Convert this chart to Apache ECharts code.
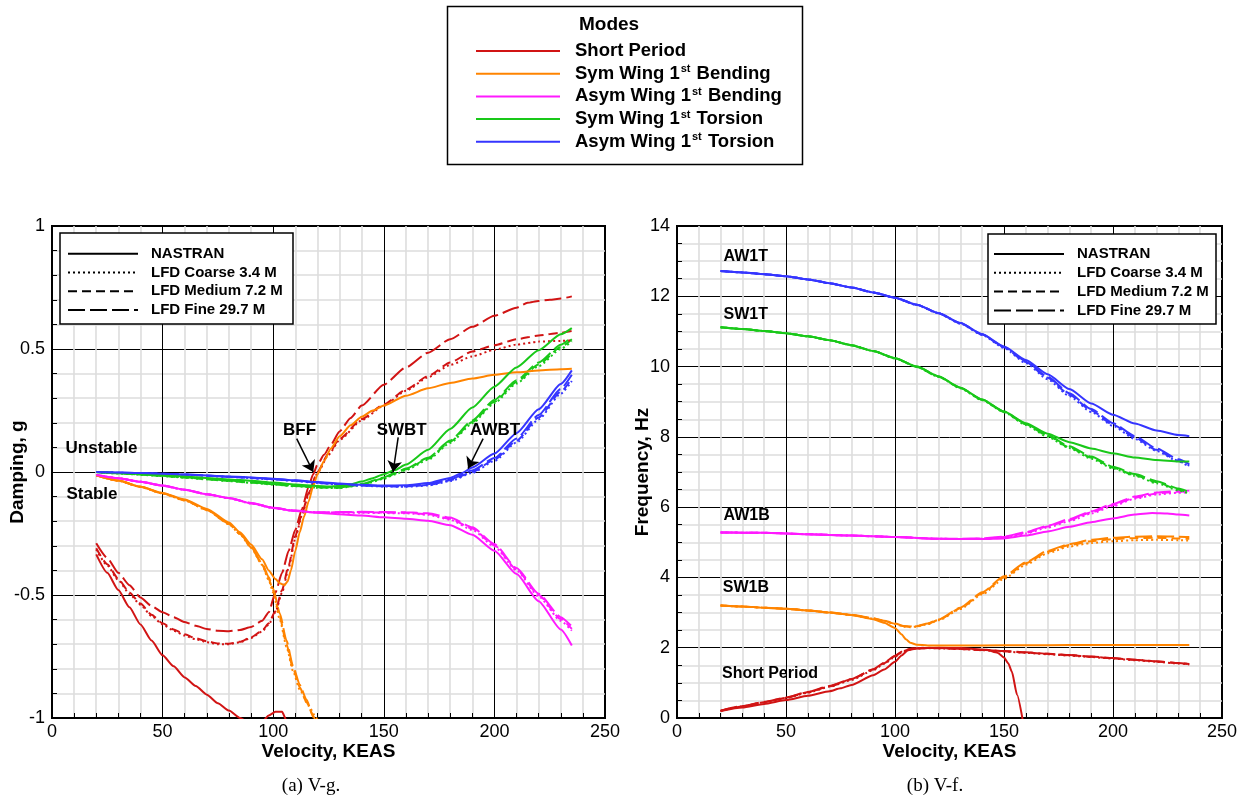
<!DOCTYPE html>
<html><head><meta charset="utf-8">
<script src="https://cdn.jsdelivr.net/npm/echarts/dist/echarts.min.js"></script>
<style>html,body{margin:0;padding:0;background:#fff}#c{width:1257px;height:802px}</style>
</head><body><div id="c"></div>
<script>
// ---------- names ----------
const MODES = ['Short Period','Sym Wing 1st Bending','Asym Wing 1st Bending','Sym Wing 1st Torsion','Asym Wing 1st Torsion'];
const METHODS = ['NASTRAN','LFD Coarse 3.4 M','LFD Medium 7.2 M','LFD Fine 29.7 M'];
const velocityTicks = [0,50,100,150,200,250];
const dampingTicks = [-1,-0.5,0,0.5,1];
const frequencyTicks = [0,2,4,6,8,10,12,14];

// ---------- V-g data : [velocity KEAS, damping g] ----------
const g_SP_NAS = [[20,-0.335],[25,-0.41],[30,-0.48],[35,-0.55],[40,-0.62],[45,-0.685],[50,-0.745],[55,-0.79],[60,-0.835],[65,-0.87],[70,-0.905],[75,-0.94],[80,-0.97],[85,-1.0],[90,-1.025],[95,-1.015],[98,-0.99],[101,-0.975],[104,-0.975],[106,-1.01],[110,-1.1]];
const g_SP_CRS = [[20,-0.315],[25,-0.38],[30,-0.44],[35,-0.495],[40,-0.54],[45,-0.585],[50,-0.62],[55,-0.645],[60,-0.665],[65,-0.68],[70,-0.692],[75,-0.70],[80,-0.70],[85,-0.692],[90,-0.675],[95,-0.648],[98,-0.62],[101,-0.57],[104,-0.49],[107,-0.39],[110,-0.27],[113,-0.175],[116,-0.09],[120,-0.005],[125,0.07],[130,0.13],[140,0.21],[150,0.27],[160,0.33],[170,0.385],[180,0.435],[190,0.47],[200,0.497],[210,0.518],[220,0.53],[230,0.533],[235,0.535]];
const g_SP_MED = [[20,-0.31],[25,-0.375],[30,-0.435],[35,-0.49],[40,-0.535],[45,-0.58],[50,-0.615],[55,-0.64],[60,-0.66],[65,-0.676],[70,-0.688],[75,-0.697],[80,-0.698],[85,-0.69],[90,-0.672],[95,-0.645],[98,-0.615],[101,-0.565],[104,-0.48],[107,-0.38],[110,-0.26],[113,-0.17],[116,-0.085],[120,0.0],[125,0.075],[130,0.135],[140,0.215],[150,0.275],[160,0.335],[170,0.39],[180,0.445],[190,0.49],[200,0.515],[210,0.54],[220,0.555],[230,0.566],[235,0.573]];
const g_SP_FIN = [[20,-0.29],[25,-0.35],[30,-0.41],[35,-0.46],[40,-0.51],[45,-0.545],[50,-0.57],[55,-0.59],[60,-0.61],[65,-0.625],[70,-0.638],[75,-0.645],[80,-0.647],[85,-0.642],[90,-0.63],[95,-0.605],[98,-0.57],[101,-0.49],[104,-0.41],[107,-0.32],[110,-0.235],[113,-0.15],[116,-0.06],[118,-0.01],[120,0.03],[123,0.07],[126,0.11],[130,0.165],[135,0.22],[140,0.27],[150,0.355],[160,0.425],[170,0.485],[180,0.54],[190,0.59],[200,0.635],[210,0.668],[215,0.688],[220,0.695],[225,0.70],[230,0.705],[235,0.714]];

const g_SW1B_NAS = [[20,-0.013],[30,-0.035],[40,-0.06],[50,-0.085],[60,-0.112],[70,-0.15],[80,-0.205],[85,-0.245],[90,-0.295],[95,-0.355],[98,-0.40],[101,-0.435],[103,-0.452],[105,-0.46],[106.5,-0.445],[108,-0.40],[110,-0.32],[112,-0.245],[114,-0.18],[116,-0.12],[118,-0.06],[120,-0.01],[123,0.045],[126,0.095],[130,0.145],[135,0.19],[140,0.225],[145,0.25],[150,0.27],[160,0.31],[170,0.34],[180,0.362],[190,0.38],[200,0.395],[210,0.405],[220,0.413],[230,0.418],[235,0.42]];
const g_SW1B_CRS = [[20,-0.013],[30,-0.036],[40,-0.061],[50,-0.088],[60,-0.116],[70,-0.155],[80,-0.212],[85,-0.253],[90,-0.308],[95,-0.378],[98,-0.44],[100,-0.49],[103,-0.60],[106,-0.71],[109,-0.81],[112,-0.885],[116,-0.95],[119.5,-1.0],[122,-1.05]];
const g_SW1B_MED = [[20,-0.013],[30,-0.035],[40,-0.06],[50,-0.087],[60,-0.115],[70,-0.154],[80,-0.211],[85,-0.252],[90,-0.306],[95,-0.376],[98,-0.435],[100,-0.483],[103,-0.59],[106,-0.70],[109,-0.80],[112,-0.875],[115,-0.935],[118.5,-1.0],[121,-1.05]];
const g_SW1B_FIN = [[20,-0.013],[30,-0.035],[40,-0.06],[50,-0.086],[60,-0.114],[70,-0.153],[80,-0.21],[85,-0.25],[90,-0.304],[95,-0.372],[98,-0.428],[100,-0.475],[103,-0.575],[106,-0.685],[109,-0.79],[112,-0.865],[115,-0.925],[118,-0.99],[120,-1.04]];

const g_AW1B_NAS = [[20,-0.012],[30,-0.025],[40,-0.04],[50,-0.055],[60,-0.072],[70,-0.09],[80,-0.106],[90,-0.127],[100,-0.146],[110,-0.158],[120,-0.166],[130,-0.172],[140,-0.177],[150,-0.184],[160,-0.19],[170,-0.198],[180,-0.216],[190,-0.255],[200,-0.32],[210,-0.415],[220,-0.525],[230,-0.64],[235,-0.705]];
const g_AW1B_CRS = [[20,-0.012],[30,-0.025],[40,-0.04],[50,-0.056],[60,-0.073],[70,-0.091],[80,-0.107],[90,-0.128],[100,-0.147],[110,-0.159],[120,-0.165],[130,-0.166],[140,-0.166],[150,-0.167],[160,-0.168],[170,-0.174],[180,-0.194],[190,-0.235],[200,-0.303],[210,-0.40],[220,-0.506],[230,-0.605],[235,-0.645]];
const g_AW1B_MED = [[20,-0.012],[30,-0.025],[40,-0.04],[50,-0.055],[60,-0.072],[70,-0.09],[80,-0.106],[90,-0.127],[100,-0.146],[110,-0.158],[120,-0.165],[130,-0.164],[140,-0.164],[150,-0.165],[160,-0.166],[170,-0.171],[180,-0.19],[190,-0.23],[200,-0.298],[210,-0.396],[220,-0.50],[230,-0.598],[235,-0.638]];
const g_AW1B_FIN = [[20,-0.012],[30,-0.025],[40,-0.04],[50,-0.055],[60,-0.072],[70,-0.09],[80,-0.106],[90,-0.126],[100,-0.145],[110,-0.157],[120,-0.164],[130,-0.163],[140,-0.162],[150,-0.163],[160,-0.164],[170,-0.168],[180,-0.185],[190,-0.225],[200,-0.293],[210,-0.39],[220,-0.495],[230,-0.59],[235,-0.628]];

const g_SW1T_NAS = [[20,0],[30,-0.004],[40,-0.008],[50,-0.013],[60,-0.018],[70,-0.024],[80,-0.03],[90,-0.036],[100,-0.043],[110,-0.051],[120,-0.057],[125,-0.059],[130,-0.057],[135,-0.05],[140,-0.039],[145,-0.025],[150,-0.009],[155,0.008],[160,0.03],[170,0.09],[180,0.175],[190,0.262],[200,0.347],[210,0.425],[220,0.495],[230,0.56],[235,0.585]];
const g_SW1T_CRS = [[20,0],[30,-0.006],[40,-0.011],[50,-0.017],[60,-0.023],[70,-0.03],[80,-0.037],[90,-0.044],[100,-0.051],[110,-0.058],[120,-0.064],[130,-0.065],[140,-0.053],[150,-0.028],[155,-0.01],[160,0.008],[170,0.05],[180,0.118],[190,0.198],[200,0.28],[210,0.36],[220,0.43],[230,0.5],[235,0.532]];
const g_SW1T_MED = [[20,0],[30,-0.005],[40,-0.01],[50,-0.016],[60,-0.022],[70,-0.029],[80,-0.036],[90,-0.043],[100,-0.05],[110,-0.057],[120,-0.063],[130,-0.064],[140,-0.051],[150,-0.025],[155,-0.007],[160,0.011],[170,0.054],[180,0.123],[190,0.203],[200,0.286],[210,0.366],[220,0.437],[230,0.508],[235,0.54]];
const g_SW1T_FIN = [[20,0],[30,-0.005],[40,-0.01],[50,-0.015],[60,-0.021],[70,-0.028],[80,-0.035],[90,-0.042],[100,-0.049],[110,-0.056],[120,-0.062],[130,-0.062],[140,-0.049],[150,-0.022],[155,-0.004],[160,0.014],[170,0.058],[180,0.128],[190,0.209],[200,0.293],[210,0.373],[220,0.445],[230,0.517],[235,0.55]];

const g_AW1T_NAS = [[20,0],[40,-0.004],[60,-0.01],[80,-0.018],[100,-0.027],[110,-0.034],[120,-0.041],[130,-0.047],[140,-0.052],[150,-0.055],[160,-0.054],[170,-0.045],[180,-0.024],[185,-0.006],[190,0.018],[200,0.075],[210,0.158],[220,0.255],[230,0.358],[235,0.413]];
const g_AW1T_CRS = [[20,0],[40,-0.005],[60,-0.011],[80,-0.02],[100,-0.03],[110,-0.037],[120,-0.045],[130,-0.051],[140,-0.056],[150,-0.059],[160,-0.06],[170,-0.055],[180,-0.037],[190,-0.004],[200,0.045],[210,0.12],[220,0.214],[230,0.318],[235,0.37]];
const g_AW1T_MED = [[20,0],[40,-0.005],[60,-0.011],[80,-0.019],[100,-0.029],[110,-0.036],[120,-0.044],[130,-0.05],[140,-0.055],[150,-0.058],[160,-0.059],[170,-0.053],[180,-0.034],[190,0.0],[200,0.05],[210,0.127],[220,0.222],[230,0.326],[235,0.38]];
const g_AW1T_FIN = [[20,0],[40,-0.004],[60,-0.01],[80,-0.019],[100,-0.028],[110,-0.035],[120,-0.043],[130,-0.049],[140,-0.054],[150,-0.057],[160,-0.057],[170,-0.05],[180,-0.03],[190,0.006],[200,0.057],[210,0.136],[220,0.232],[230,0.338],[235,0.395]];

// ---------- V-f data : [velocity KEAS, frequency Hz] ----------
const f_SP_NAS = [[20,0.2],[30,0.3],[40,0.4],[50,0.51],[60,0.63],[70,0.76],[75,0.845],[80,0.94],[90,1.22],[95,1.38],[100,1.6],[103,1.78],[106,1.93],[110,1.98],[120,2.0],[130,1.99],[142,1.94],[147,1.86],[150,1.72],[152,1.55],[153.6,1.32],[156,0.66],[158.5,-0.03]];
const f_SP_CRS = [[20,0.2],[30,0.33],[40,0.45],[50,0.57],[60,0.72],[70,0.89],[80,1.08],[90,1.36],[95,1.54],[100,1.74],[104,1.9],[108,1.97],[115,1.99],[120,1.98],[130,1.96],[140,1.93],[150,1.89],[160,1.855],[170,1.815],[180,1.775],[190,1.735],[200,1.69],[210,1.645],[220,1.6],[230,1.55],[235,1.525]];
const f_SP_MED = [[20,0.2],[30,0.33],[40,0.45],[50,0.575],[60,0.73],[70,0.9],[80,1.1],[90,1.38],[95,1.56],[100,1.76],[104,1.91],[108,1.975],[115,1.995],[120,1.985],[130,1.965],[140,1.935],[150,1.9],[160,1.865],[170,1.825],[180,1.785],[190,1.745],[200,1.7],[210,1.655],[220,1.61],[230,1.56],[235,1.535]];
const f_SP_FIN = [[20,0.21],[30,0.34],[40,0.46],[50,0.58],[60,0.74],[70,0.91],[80,1.11],[90,1.39],[95,1.57],[100,1.77],[104,1.92],[108,1.98],[115,2.0],[120,1.99],[130,1.97],[140,1.94],[150,1.905],[160,1.87],[170,1.83],[180,1.79],[190,1.75],[200,1.705],[210,1.66],[220,1.615],[230,1.565],[235,1.54]];

const f_SW1B_NAS = [[20,3.2],[30,3.17],[40,3.14],[50,3.11],[60,3.06],[70,3.0],[80,2.93],[90,2.81],[95,2.71],[100,2.56],[103,2.38],[105,2.24],[107,2.14],[110,2.085],[115,2.065],[120,2.06],[140,2.065],[160,2.07],[180,2.075],[200,2.078],[220,2.08],[235,2.08]];
const f_SW1B_CRS = [[20,3.2],[30,3.17],[40,3.14],[50,3.11],[60,3.06],[70,3.0],[80,2.93],[90,2.83],[95,2.76],[100,2.67],[104,2.6],[107,2.585],[110,2.6],[115,2.67],[120,2.78],[130,3.1],[140,3.52],[150,3.96],[160,4.36],[170,4.69],[180,4.88],[190,4.98],[200,5.03],[210,5.06],[220,5.07],[230,5.06],[235,5.05]];
const f_SW1B_MED = [[20,3.2],[30,3.17],[40,3.14],[50,3.11],[60,3.06],[70,3.0],[80,2.93],[90,2.83],[95,2.76],[100,2.68],[104,2.61],[107,2.595],[110,2.61],[115,2.68],[120,2.79],[130,3.12],[140,3.55],[150,4.0],[160,4.4],[170,4.73],[180,4.92],[190,5.03],[200,5.09],[210,5.12],[220,5.13],[230,5.11],[235,5.1]];
const f_SW1B_FIN = [[20,3.2],[30,3.17],[40,3.14],[50,3.11],[60,3.06],[70,3.0],[80,2.94],[90,2.84],[95,2.77],[100,2.69],[104,2.62],[107,2.605],[110,2.62],[115,2.69],[120,2.8],[130,3.14],[140,3.58],[150,4.03],[160,4.43],[170,4.76],[180,4.95],[190,5.07],[200,5.13],[210,5.16],[220,5.17],[230,5.16],[235,5.15]];

const f_AW1B_NAS = [[20,5.28],[40,5.27],[60,5.23],[80,5.19],[100,5.15],[120,5.1],[130,5.09],[140,5.09],[150,5.11],[160,5.19],[170,5.31],[180,5.44],[190,5.57],[200,5.68],[210,5.79],[218,5.835],[225,5.82],[230,5.79],[235,5.76]];
const f_AW1B_CRS = [[20,5.28],[40,5.27],[60,5.23],[80,5.19],[100,5.15],[120,5.1],[130,5.09],[140,5.1],[150,5.14],[160,5.25],[170,5.42],[180,5.6],[190,5.82],[200,6.03],[210,6.24],[220,6.36],[230,6.41],[235,6.42]];
const f_AW1B_MED = [[20,5.28],[40,5.27],[60,5.23],[80,5.19],[100,5.15],[120,5.1],[130,5.09],[140,5.1],[150,5.15],[160,5.27],[170,5.45],[180,5.63],[190,5.85],[200,6.06],[210,6.27],[220,6.39],[230,6.44],[235,6.45]];
const f_AW1B_FIN = [[20,5.28],[40,5.27],[60,5.23],[80,5.19],[100,5.15],[120,5.1],[130,5.1],[140,5.11],[150,5.16],[160,5.29],[170,5.47],[180,5.66],[190,5.88],[200,6.09],[210,6.3],[220,6.42],[230,6.46],[235,6.47]];

const f_SW1T_NAS = [[20,11.12],[30,11.07],[40,11.01],[50,10.95],[60,10.86],[70,10.75],[80,10.61],[90,10.44],[100,10.24],[110,10.0],[120,9.72],[130,9.4],[140,9.06],[150,8.72],[160,8.39],[170,8.09],[180,7.85],[190,7.67],[200,7.53],[210,7.41],[220,7.34],[230,7.3],[235,7.3]];
const f_SW1T_CRS = [[20,11.12],[30,11.07],[40,11.01],[50,10.95],[60,10.86],[70,10.75],[80,10.61],[90,10.44],[100,10.23],[110,9.99],[120,9.71],[130,9.38],[140,9.04],[150,8.7],[160,8.34],[170,8.0],[180,7.68],[190,7.38],[200,7.1],[210,6.89],[220,6.68],[230,6.48],[235,6.38]];
const f_SW1T_MED = [[20,11.12],[30,11.07],[40,11.01],[50,10.95],[60,10.86],[70,10.75],[80,10.61],[90,10.44],[100,10.24],[110,9.99],[120,9.71],[130,9.39],[140,9.05],[150,8.71],[160,8.36],[170,8.03],[180,7.7],[190,7.41],[200,7.12],[210,6.91],[220,6.71],[230,6.5],[235,6.4]];
const f_SW1T_FIN = [[20,11.12],[30,11.07],[40,11.01],[50,10.95],[60,10.86],[70,10.75],[80,10.61],[90,10.44],[100,10.24],[110,10.0],[120,9.72],[130,9.4],[140,9.06],[150,8.72],[160,8.37],[170,8.05],[180,7.73],[190,7.44],[200,7.15],[210,6.94],[220,6.74],[230,6.53],[235,6.43]];

const f_AW1T_NAS = [[20,12.72],[30,12.68],[40,12.63],[50,12.57],[60,12.48],[70,12.37],[80,12.25],[90,12.11],[100,11.96],[110,11.76],[120,11.52],[130,11.24],[140,10.92],[150,10.57],[160,10.19],[170,9.78],[180,9.36],[190,8.95],[200,8.63],[210,8.38],[220,8.18],[230,8.05],[235,8.02]];
const f_AW1T_CRS = [[20,12.72],[30,12.68],[40,12.63],[50,12.57],[60,12.48],[70,12.37],[80,12.25],[90,12.11],[100,11.95],[110,11.75],[120,11.51],[130,11.22],[140,10.9],[150,10.53],[160,10.1],[170,9.64],[180,9.16],[190,8.71],[200,8.31],[210,7.94],[220,7.6],[230,7.3],[235,7.15]];
const f_AW1T_MED = [[20,12.72],[30,12.68],[40,12.63],[50,12.57],[60,12.48],[70,12.37],[80,12.25],[90,12.11],[100,11.96],[110,11.76],[120,11.52],[130,11.23],[140,10.91],[150,10.55],[160,10.13],[170,9.68],[180,9.2],[190,8.75],[200,8.35],[210,7.98],[220,7.63],[230,7.32],[235,7.18]];
const f_AW1T_FIN = [[20,12.72],[30,12.68],[40,12.63],[50,12.57],[60,12.48],[70,12.37],[80,12.25],[90,12.11],[100,11.96],[110,11.76],[120,11.52],[130,11.24],[140,10.92],[150,10.56],[160,10.15],[170,9.71],[180,9.24],[190,8.79],[200,8.39],[210,8.02],[220,7.67],[230,7.36],[235,7.22]];

// ---------- assembled tables (rows = modes, cols = methods) ----------
const dampingTable = [
  [g_SP_NAS, g_SP_CRS, g_SP_MED, g_SP_FIN],
  [g_SW1B_NAS, g_SW1B_CRS, g_SW1B_MED, g_SW1B_FIN],
  [g_AW1B_NAS, g_AW1B_CRS, g_AW1B_MED, g_AW1B_FIN],
  [g_SW1T_NAS, g_SW1T_CRS, g_SW1T_MED, g_SW1T_FIN],
  [g_AW1T_NAS, g_AW1T_CRS, g_AW1T_MED, g_AW1T_FIN]
];
const frequencyTable = [
  [f_SP_NAS, f_SP_CRS, f_SP_MED, f_SP_FIN],
  [f_SW1B_NAS, f_SW1B_CRS, f_SW1B_MED, f_SW1B_FIN],
  [f_AW1B_NAS, f_AW1B_CRS, f_AW1B_MED, f_AW1B_FIN],
  [f_SW1T_NAS, f_SW1T_CRS, f_SW1T_MED, f_SW1T_FIN],
  [f_AW1T_NAS, f_AW1T_CRS, f_AW1T_MED, f_AW1T_FIN]
];

// annotation texts (data-space anchors)
const vgLabels = [['Unstable',5.9,0.096,'right'],['Stable',6.3,-0.091,'right'],['BFF',111.9,0.17,'inside'],['SWBT',158.1,0.17,'inside'],['AWBT',200.3,0.17,'inside']];
const vgArrows = [[[110.6,0.136],[118.1,0.0]],[[156.5,0.141],[154.2,0.0]],[[194.9,0.136],[188.1,0.014]]];
const vfLabels = [['AW1T',21.1,13.12],['SW1T',21.1,11.49],['AW1B',21.1,5.75],['SW1B',20.8,3.72],['Short Period',20.4,1.25]];

// ---------- styles ----------
const FONT = '"Liberation Sans", Arial, Helvetica, sans-serif';
const COLORS = ['#d11414','#ff8400','#ff1aff','#19c819','#3535ff'];
const DASHES = ['solid',[2,3],[9,5],[17,5]];
const MINOR_GRID = {show:true,lineStyle:{color:'#dddddd',width:1.6}};

function axisCommon(){
  return {
    nameMoveOverlap:false,
    axisLine:{show:true,onZero:false,lineStyle:{color:'#000',width:2}},
    axisTick:{show:true,inside:true,length:9,lineStyle:{color:'#000',width:1}},
    splitLine:{show:true,lineStyle:{color:'#000',width:1}},
    minorSplitLine:MINOR_GRID,
  };
}
function xAx(i){
  const a = Object.assign(axisCommon(),{
    gridIndex:i,type:'value',min:velocityTicks[0],max:velocityTicks[velocityTicks.length-1],interval:velocityTicks[1]-velocityTicks[0],
    name:'Velocity, KEAS',nameLocation:'middle',nameGap:24,
    nameTextStyle:{fontSize:19,fontWeight:'bold',color:'#000',fontFamily:FONT},
    axisLabel:{margin:5,fontSize:18,color:'#000',fontFamily:FONT},
  });
  a.minorTick = {show:true,splitNumber:5,length:5,lineStyle:{color:'#000',width:1}};
  return a;
}
function yAx(i,ticks,name,minorN){
  const a = Object.assign(axisCommon(),{
    gridIndex:i,type:'value',min:ticks[0],max:ticks[ticks.length-1],interval:ticks[1]-ticks[0],
    name:name,nameLocation:'middle',nameGap:25,nameRotate:90,
    nameTextStyle:{fontSize:19,fontWeight:'bold',color:'#000',fontFamily:FONT},
    axisLabel:{margin:7,fontSize:18,color:'#000',fontFamily:FONT},
  });
  a.minorTick = {show:true,splitNumber:minorN,length:5,lineStyle:{color:'#000',width:1}};
  return a;
}

const series = [];
function addChart(table, gi, tag){
  for (let j = METHODS.length-1; j >= 0; j--) {
    for (let m = 0; m < MODES.length; m++) {
      series.push({
        type:'line', xAxisIndex:gi, yAxisIndex:gi,
        name: (j===0 && gi===0) ? MODES[m] : MODES[m]+' / '+METHODS[j]+' / '+tag,
        data: table[m][j], symbol:'none', smooth:0.2, smoothMonotone:'x',
        color: COLORS[m],
        lineStyle:{color:COLORS[m], width:2, type:DASHES[j]},
        z: 2, silent:true
      });
    }
  }
}
addChart(dampingTable, 0, 'V-g');
addChart(frequencyTable, 1, 'V-f');
// legend-only series (line patterns)
METHODS.forEach((mname,j)=>{
  series.push({type:'line',xAxisIndex:0,yAxisIndex:0,name:mname,data:[],symbol:'none',color:'#000',lineStyle:{color:'#000',width:2,type:DASHES[j]}});
});
// annotations on V-g
series.push({
  type:'line',xAxisIndex:0,yAxisIndex:0,name:'vg-notes',data:[],symbol:'none',silent:true,
  markLine:{silent:true,symbol:['none','arrow'],symbolSize:11,precision:3,
    lineStyle:{color:'#000',width:1.5,type:'solid'},label:{show:false},
    data: vgArrows.map(a=>[{coord:a[0]},{coord:a[1]}])},
  markPoint:{silent:true,symbol:'circle',symbolSize:1,itemStyle:{color:'rgba(0,0,0,0)'},
    data: vgLabels.map(l=>({name:l[0],coord:[l[1],l[2]],label:{show:true,position:l[3],distance:0,formatter:'{b}',color:'#000',fontSize:17,fontWeight:'bold',fontFamily:FONT}}))}
});
series.push({
  type:'line',xAxisIndex:1,yAxisIndex:1,name:'vf-notes',data:[],symbol:'none',silent:true,
  markPoint:{silent:true,symbol:'circle',symbolSize:1,itemStyle:{color:'rgba(0,0,0,0)'},
    data: vfLabels.map(l=>({name:l[0],coord:[l[1],l[2]],label:{show:true,position:'right',distance:0,formatter:'{b}',color:'#000',fontSize:16,fontWeight:'bold',fontFamily:FONT}}))}
});

function methodLegend(left, top){
  return {
    data: METHODS, orient:'vertical', left:left, top:top, padding:0,
    itemWidth:70, itemHeight:10, itemGap:1.8, selectedMode:false,
    itemStyle:{opacity:0},
    textStyle:{fontSize:15,fontWeight:'bold',color:'#000',fontFamily:FONT,lineHeight:17,padding:[0,0,0,8]},
    z:6
  };
}

const option = {
  animation:false,
  backgroundColor:'#fff',
  textStyle:{fontFamily:FONT},
  grid:[
    {left:52,top:226,width:553,height:492,show:true,borderColor:'#000',borderWidth:2,backgroundColor:'rgba(0,0,0,0)',containLabel:false,outerBoundsMode:'none'},
    {left:677,top:226,width:545,height:492,show:true,borderColor:'#000',borderWidth:2,backgroundColor:'rgba(0,0,0,0)',containLabel:false,outerBoundsMode:'none'}
  ],
  xAxis:[xAx(0), xAx(1)],
  yAxis:[yAx(0,dampingTicks,'Damping, g',5), yAx(1,frequencyTicks,'Frequency, Hz',4)],
  legend:[
    {
      data: MODES, orient:'vertical', left:475, top:41, padding:0,
      itemWidth:84, itemHeight:14, itemGap:2.7, selectedMode:false,
      itemStyle:{opacity:0},
      formatter: n => n.replace('1st','1{sup|st}'),
      textStyle:{fontSize:18.5,fontWeight:'bold',color:'#000',fontFamily:FONT,lineHeight:20,padding:[0,0,0,10],
        rich:{sup:{fontSize:11,fontWeight:'bold',color:'#000',fontFamily:FONT,lineHeight:11,verticalAlign:'top',padding:[0,1,0,1]}}},
      z:6
    },
    methodLegend(67,245.2),
    methodLegend(993,245.5)
  ],
  graphic:[
    {type:'rect',z:5,shape:{x:447.5,y:6.5,width:355,height:158},style:{fill:'#fff',stroke:'#000',lineWidth:1.5}},
    {type:'rect',z:5,shape:{x:60,y:233,width:233,height:91},style:{fill:'#fff',stroke:'#000',lineWidth:1.5}},
    {type:'rect',z:5,shape:{x:988,y:234,width:228,height:90},style:{fill:'#fff',stroke:'#000',lineWidth:1.5}},
    {type:'text',z:7,x:579,y:25,style:{text:'Modes',fontSize:19,fontWeight:'bold',fontFamily:FONT,fill:'#000',textAlign:'left',align:'left',textVerticalAlign:'middle',verticalAlign:'middle'}},
    {type:'text',z:7,x:311,y:786,style:{text:'(a) V-g.',fontSize:19,fontFamily:'"Liberation Serif", "Times New Roman", serif',fill:'#000',textAlign:'center',align:'center',textVerticalAlign:'middle',verticalAlign:'middle'}},
    {type:'text',z:7,x:935,y:786,style:{text:'(b) V-f.',fontSize:19,fontFamily:'"Liberation Serif", "Times New Roman", serif',fill:'#000',textAlign:'center',align:'center',textVerticalAlign:'middle',verticalAlign:'middle'}}
  ],
  series: series
};
const chart = echarts.init(document.getElementById('c'), null, {renderer:'canvas'});
chart.setOption(option);
</script></body></html>
